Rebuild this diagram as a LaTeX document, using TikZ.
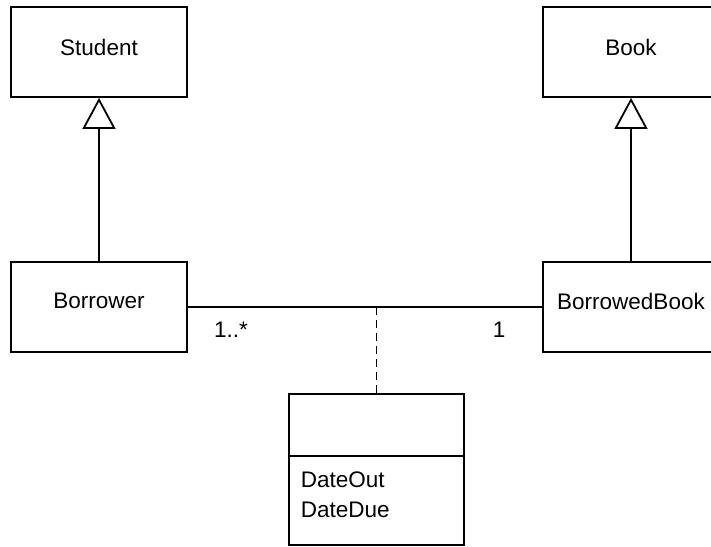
\documentclass[tikz,border=0pt]{standalone}
\usepackage{fontspec}
\setmainfont{Liberation Sans}
\usetikzlibrary{arrows.meta}
\begin{document}
\begin{tikzpicture}[x=1pt,y=-1pt,
  line width=1.8pt,
  font=\fontsize{22.5}{27}\selectfont,
  classbox/.style={draw, rectangle, minimum width=176pt, minimum height=90pt, inner sep=0pt},
  txt/.style={inner sep=0pt},
  inherit/.style={-{Triangle[open, length=31pt, width=33pt]}},
  assocdash/.style={dash pattern=on 8pt off 5pt}
]
\useasboundingbox (0,0) rectangle (711,546);

% classes
\node[classbox] (student) at (99,52) {};
\node[classbox] (book) at (631,52) {};
\node[classbox] (borrower) at (99,307) {};
\node[classbox] (borrowed) at (631,307) {};
\node[draw, rectangle, minimum width=175pt, minimum height=151pt, inner sep=0pt] (dates) at (376.5,469.5) {};

% class names
\node[txt] (studentname) at ([yshift=5pt]student.center) {Student};
\node[txt] (bookname) at ([yshift=5pt]book.center) {Book};
\node[txt] (borrowername) at ([yshift=6pt]borrower.center) {Borrower};
\node[txt] (borrowedname) at ([yshift=6pt]borrowed.center) {BorrowedBook};

% association class compartment and attributes
\coordinate (sepL) at (289,456);
\coordinate (sepR) at (464,456);
\draw (sepL) -- (sepR);
\node[txt, anchor=west] (dateout) at (300,480) {DateOut};
\node[txt, anchor=west] (datedue) at (300,510) {DateDue};

% generalisations
\draw[inherit] (borrower.north) -- (student.south);
\draw[inherit] (borrowed.north) -- (book.south);

% association with its class
\draw (borrower.east) -- (borrowed.west);
\coordinate (assoc) at (376.5,307);
\draw[assocdash] (assoc) -- (dates.north);

% multiplicities
\node[txt] (multleft) at (231,330) {1..*};
\node[txt] (multright) at (499,330) {1};
\end{tikzpicture}
\end{document}
